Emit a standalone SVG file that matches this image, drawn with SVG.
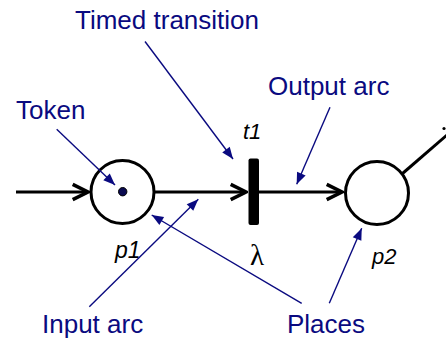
<svg xmlns="http://www.w3.org/2000/svg" width="446" height="341" viewBox="0 0 446 341">
<style>
.lbl{font-family:"Liberation Sans",Arial,sans-serif;font-size:26px;fill:#0a0a80}
.it{font-family:"Liberation Sans",Arial,sans-serif;font-style:italic;font-size:22px;fill:#000}
.arc{stroke:#000;stroke-width:3;fill:none}
.ptr{stroke:#0a0a80;stroke-width:1.4;fill:none}
.place{stroke:#000;stroke-width:3;fill:#fff}
</style>
<defs>
<marker id="chev" markerUnits="userSpaceOnUse" markerWidth="20" markerHeight="20" viewBox="-15 -8 17 16" refX="0" refY="0" orient="auto">
<polyline points="-13,-6.5 0,0 -13,6.5" fill="none" stroke="#000" stroke-width="3" stroke-linejoin="miter"/>
</marker>
<marker id="tri" markerUnits="userSpaceOnUse" markerWidth="14" markerHeight="12" viewBox="-11 -5 12 10" refX="0" refY="0" orient="auto">
<path d="M-10,-4 L0,0 L-10,4 Z" fill="#0a0a80"/>
</marker>
</defs>
<g id="connectors">
<line class="arc" x1="16" y1="192" x2="88" y2="192" marker-end="url(#chev)"/>
<line class="arc" x1="154" y1="192" x2="246" y2="192" marker-end="url(#chev)"/>
<line class="arc" x1="259" y1="192" x2="342" y2="192" marker-end="url(#chev)"/>
<line class="arc" x1="402.5" y1="173.5" x2="447" y2="135"/>
</g>
<g id="p1">
<circle class="place" cx="122.5" cy="192" r="31.5"/>
<circle cx="122.7" cy="191.7" r="4.2" fill="#0a0a50" stroke="#000" stroke-width="1"/>
<text class="it" x="115" y="258" style="font-size:23px">p1</text>
</g>
<g id="t1">
<rect x="248.5" y="158.5" width="10.5" height="66.5" rx="2" fill="#000"/>
<text class="it" x="243" y="139">t1</text>
<text x="257" y="265" text-anchor="middle" style="font-family:'Liberation Serif','Times New Roman',serif;font-size:29px;fill:#000">λ</text>
</g>
<g id="p2">
<circle class="place" cx="377" cy="193" r="31.5"/>
<text class="it" x="372" y="264">p2</text>
</g>
<circle cx="444" cy="128.5" r="1.6" fill="#000"/>
<g id="annotations">
<line class="ptr" x1="145" y1="41.5" x2="233" y2="159" marker-end="url(#tri)"/>
<line class="ptr" x1="56.7" y1="129.3" x2="115" y2="185" marker-end="url(#tri)"/>
<line class="ptr" x1="330" y1="107.3" x2="296.7" y2="184.3" marker-end="url(#tri)"/>
<line class="ptr" x1="89.3" y1="306.7" x2="198.3" y2="199.3" marker-end="url(#tri)"/>
<line class="ptr" x1="301.7" y1="303.3" x2="151.7" y2="215" marker-end="url(#tri)"/>
<line class="ptr" x1="329.3" y1="303.3" x2="361.7" y2="228.3" marker-end="url(#tri)"/>
</g>
<g id="labels">
<text class="lbl" x="75" y="29">Timed transition</text>
<text class="lbl" x="16" y="119">Token</text>
<text class="lbl" x="268" y="95">Output arc</text>
<text class="lbl" x="42" y="333">Input arc</text>
<text class="lbl" x="287" y="333">Places</text>
</g>
</svg>
